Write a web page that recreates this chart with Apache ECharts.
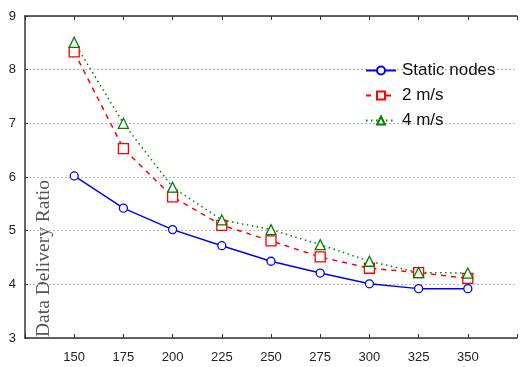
<!DOCTYPE html>
<html>
<head>
<meta charset="utf-8">
<script src="https://cdn.jsdelivr.net/npm/echarts@6/dist/echarts.min.js"></script>
<style>
  html, body { margin: 0; padding: 0; background: #fff; }
  #chart { width: 520px; height: 367px; }
</style>
</head>
<body>
<div id="chart"></div>
<script>
// node counts on the x axis
const nodeCounts = [150, 175, 200, 225, 250, 275, 300, 325, 350];
const yTicks = [3, 4, 5, 6, 7, 8, 9];

const staticNodes = [6.02, 5.42, 5.02, 4.72, 4.43, 4.21, 4.01, 3.92, 3.92];
const speed2 = [8.33, 6.53, 5.63, 5.1, 4.81, 4.51, 4.3, 4.22, 4.11];
const speed4 = [8.51, 7.0, 5.81, 5.2, 5.02, 4.74, 4.43, 4.22, 4.21];

function pairs(vals) {
  return nodeCounts.map((x, i) => [x, vals[i]]);
}

const chart = echarts.init(document.getElementById('chart'));

const font = 'Liberation Sans, Arial, sans-serif';

const option = {
  animation: false,
  grid: { left: 25, right: 0, top: 16, bottom: 29 },
  legend: {
    orient: 'vertical',
    left: 360,
    top: 57,
    itemWidth: 30,
    itemHeight: 10,
    itemGap: 8,
    textStyle: { fontFamily: font, fontSize: 17, color: '#111', padding: [0, 0, 0, 1] },
    data: ['Static nodes', '2 m/s', '4 m/s']
  },
  xAxis: [
    {
      type: 'value',
      min: 125,
      max: 375,
      interval: 25,
      position: 'bottom',
      axisLine: { show: true, lineStyle: { color: '#333', width: 1.5 } },
      axisTick: { show: true, inside: true, length: 4, lineStyle: { color: '#333' } },
      axisLabel: {
        fontFamily: font,
        fontSize: 13,
        color: '#222',
        margin: 13,
        formatter: v => (v < 150 || v > 350 ? '' : String(v))
      },
      splitLine: { show: false }
    },
    {
      type: 'value',
      min: 125,
      max: 375,
      interval: 25,
      position: 'top',
      axisLine: { show: true, lineStyle: { color: '#333', width: 1.5 } },
      axisTick: { show: true, inside: true, length: 4, lineStyle: { color: '#333' } },
      axisLabel: { show: false },
      splitLine: { show: false }
    }
  ],
  yAxis: {
    type: 'value',
    min: yTicks[0],
    max: yTicks[yTicks.length - 1],
    interval: 1,
    axisLine: { show: true, lineStyle: { color: '#333', width: 1.5 } },
    axisTick: { show: true, inside: true, length: 3, lineStyle: { color: '#333' } },
    axisLabel: { fontFamily: font, fontSize: 13, color: '#222', margin: 9 },
    splitLine: { show: true, lineStyle: { color: '#bbb', type: [2, 2], width: 1 } }
  },
  graphic: [
    {
      type: 'text',
      x: 34,
      y: 337,
      rotation: Math.PI / 2,
      style: {
        text: 'Data Delivery Ratio',
        fontFamily: 'Liberation Serif, Times New Roman, serif',
        fontSize: 19.5,
        fill: '#555',
        textAlign: 'left',
        textVerticalAlign: 'top'
      }
    }
  ],
  series: [
    {
      name: 'Static nodes',
      type: 'line',
      data: pairs(staticNodes),
      symbol: 'circle',
      symbolSize: 8,
      color: '#0000ff',
      itemStyle: { color: '#fff', borderColor: '#0000ff', borderWidth: 1.3 },
      lineStyle: { color: '#0000ff', width: 1.5, type: 'solid' }
    },
    {
      name: '2 m/s',
      type: 'line',
      data: pairs(speed2),
      symbol: 'rect',
      symbolSize: 10,
      color: '#ff0000',
      itemStyle: { color: '#fff', borderColor: '#ff0000', borderWidth: 1.3 },
      lineStyle: { color: '#ff0000', width: 1.5, type: [5, 5] }
    },
    {
      name: '4 m/s',
      type: 'line',
      data: pairs(speed4),
      symbol: 'triangle',
      symbolSize: 10,
      color: '#008000',
      itemStyle: { color: '#fff', borderColor: '#008000', borderWidth: 1.3 },
      lineStyle: { color: '#008000', width: 1.5, type: [1.5, 3.5] }
    }
  ]
};

chart.setOption(option);
</script>
</body>
</html>
